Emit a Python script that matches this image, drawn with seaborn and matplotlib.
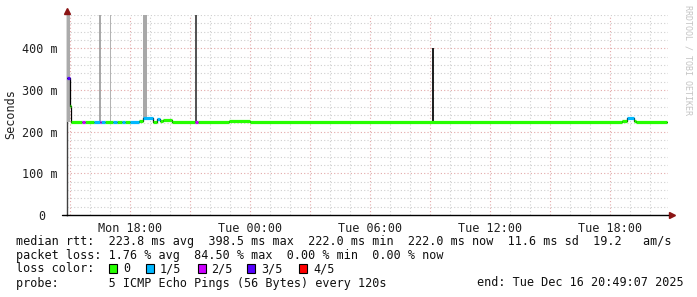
import numpy as np
import pandas as pd
import matplotlib
matplotlib.use("Agg")
import matplotlib.pyplot as plt
import matplotlib.transforms as mtransforms
from matplotlib.patches import Rectangle
import seaborn as sns

# ---------------- data ----------------
# median rtt segments (hours since Mon 00:00, value in ms, loss category)
seg_start = [14.85, 14.975, 15.025, 15.60, 15.75, 16.20, 16.475, 16.55, 16.75, 17.15, 17.35, 17.60,
             17.75, 18.00, 18.45, 18.65, 19.15, 19.35, 19.50, 19.65, 20.10, 21.25, 21.40, 22.95,
             24.00, 42.60, 42.85, 43.20, 43.30]
seg_end = [14.975, 15.025, 15.60, 15.75, 16.20, 16.475, 16.55, 16.75, 17.15, 17.35, 17.60, 17.75,
           18.00, 18.45, 18.65, 19.15, 19.35, 19.50, 19.65, 20.10, 21.25, 21.40, 22.95, 24.00,
           42.60, 42.85, 43.20, 43.30, 44.85]
seg_rtt = [328, 262, 222.5, 222.5, 222.5, 222.5, 222.5, 222.5, 222.5, 222.5, 222.5, 222.5,
           222.5, 222.5, 226, 233, 222, 231, 225, 229, 223, 223, 222, 226,
           222, 226, 232, 226, 222]
seg_loss = ["3/5", "0", "0", "2/5", "0", "1/5", "2/5", "1/5", "0", "1/5", "0", "1/5",
            "0", "1/5", "0", "1/5", "0", "1/5", "0", "0", "0", "2/5", "0", "0",
            "0", "0", "1/5", "0", "0"]

# smoke (ping spread) bands
smoke_start = [14.85, 16.45, 17.00, 18.65, 21.25, 33.10]
smoke_end = [15.00, 16.55, 17.05, 18.85, 21.35, 33.20]
smoke_low = [222, 222, 225, 232, 222, 222]
smoke_high = [480, 480, 480, 480, 480, 400]
smoke_shade = [0.67, 0.66, 0.70, 0.66, 0.33, 0.13]

loss_labels = ["0", "1/5", "2/5", "3/5", "4/5"]
loss_colors = ["#26ff00", "#00b8ff", "#cc00ff", "#5500ff", "#ff0000"]

xtick_hours = [15, 18, 21, 24, 27, 30, 33, 36, 39, 42]
xtick_labels = ["", "Mon 18:00", "", "Tue 00:00", "", "Tue 06:00", "", "Tue 12:00", "", "Tue 18:00"]
ytick_values = [0, 100, 200, 300, 400]
ytick_labels = ["0", "100 m", "200 m", "300 m", "400 m"]

stats_lines = [
    "median rtt:  223.8 ms avg  398.5 ms max  222.0 ms min  222.0 ms now  11.6 ms sd  19.2   am/s",
    "packet loss: 1.76 % avg  84.50 % max  0.00 % min  0.00 % now",
    "loss color:",
    "probe:       5 ICMP Echo Pings (56 Bytes) every 120s",
]
end_text = "end: Tue Dec 16 20:49:07 2025"
y_title = "Seconds"
watermark = "RRDTOOL / TOBI OETIKER"

# ---------------- styling ----------------
sns.set_style("white")
plt.rcParams["font.family"] = ["DejaVu Sans Mono"]
FS = 8.5
W, H = 697, 297

fig = plt.figure(figsize=(W / 100, H / 100), dpi=100)
fig.patch.set_facecolor("white")
ax = fig.add_axes([67 / W, (H - 215) / H, 601 / W, 200 / H])
ax.set_facecolor("white")

x0, x1 = 14.85, 44.9
ax.set_xlim(x0, x1)
ax.set_ylim(0, 480)

# grid
major_grid = "#e3a9a9"
minor_grid = "#cfcfcf"
for h in np.arange(15, 45, 1):
    if h % 3 == 0:
        continue
    ax.axvline(h, color=minor_grid, lw=0.8, ls=(0, (1, 2)), zorder=0)
for v in np.arange(20, 481, 20):
    if v % 100 == 0:
        continue
    ax.axhline(v, color=minor_grid, lw=0.8, ls=(0, (1, 2)), zorder=0)
for h in xtick_hours:
    ax.axvline(h, color=major_grid, lw=0.8, ls=(0, (1, 2)), zorder=0.5)
for v in ytick_values[1:]:
    ax.axhline(v, color=major_grid, lw=0.8, ls=(0, (1, 2)), zorder=0.5)

# smoke
for s, e, lo, hi, sh in zip(smoke_start, smoke_end, smoke_low, smoke_high, smoke_shade):
    ax.bar(s, hi - lo, bottom=lo, width=e - s, align="edge",
           color=(sh, sh, sh), linewidth=0, zorder=1)

# median line: black step connectors beneath colored segments
step_x, step_y = [], []
for s, e, v in zip(seg_start, seg_end, seg_rtt):
    step_x += [s, e]
    step_y += [v, v]
sns.lineplot(x=step_x, y=step_y, ax=ax, color="black", lw=0.9,
             estimator=None, sort=False, zorder=2)

rows = []
for i, (s, e, v, l) in enumerate(zip(seg_start, seg_end, seg_rtt, seg_loss)):
    rows.append({"hour": s, "rtt": v, "loss": l, "seg": i})
    rows.append({"hour": e, "rtt": v, "loss": l, "seg": i})
df = pd.DataFrame(rows)
sns.lineplot(data=df, x="hour", y="rtt", hue="loss", units="seg", estimator=None,
             hue_order=loss_labels, palette=dict(zip(loss_labels, loss_colors)),
             lw=2.3, sort=False, legend=False, ax=ax, zorder=3, solid_capstyle="butt")

# axes decoration
for sp in ["top", "right"]:
    ax.spines[sp].set_visible(False)
ax.spines["left"].set_color("#404040")
ax.spines["left"].set_linewidth(1.0)
ax.spines["left"].set_zorder(0.8)
ax.spines["bottom"].set_color("#000000")
ax.spines["bottom"].set_linewidth(1.0)

ax.set_xticks(xtick_hours)
ax.set_xticklabels(xtick_labels, fontsize=FS, color="#202020")
ax.set_xticks(np.arange(15, 45, 1), minor=True)
ax.tick_params(axis="x", which="major", length=3, width=0.8, color="#d08080", pad=2)
ax.tick_params(axis="x", which="minor", length=2, width=0.8, color="#cccccc")
ax.set_yticks(ytick_values)
ax.set_yticklabels(ytick_labels, fontsize=FS, color="#202020")
ax.tick_params(axis="y", which="major", length=5, width=0.8, color="#d8a0a0", pad=2)
ax.set_xlabel("")
ax.set_ylabel("")
# shift the lone "0" label to match the reference alignment
lab0 = ax.get_yticklabels()[0]
lab0.set_transform(lab0.get_transform() + mtransforms.ScaledTranslation(-12 / 100, 0, fig.dpi_scale_trans))

# arrows
ax.plot([0], [1.0 + 4 / 200], marker="^", color="#8b1414", ms=4.5, transform=ax.transAxes, clip_on=False)
ax.plot([1.0 + 4 / 601], [0], marker=">", color="#8b1414", ms=4.5, transform=ax.transAxes, clip_on=False)
ax.plot([-5 / 601, 0], [0, 0], color="black", lw=1.0, transform=ax.transAxes, clip_on=False)

# titles
fig.text(11 / W, 1 - 114 / H, y_title, rotation=90, ha="center", va="center", fontsize=FS, color="#202020")
fig.text(688 / W, 1 - 60 / H, watermark, rotation=270, ha="center", va="center", fontsize=6, color="#c4c4c4")

# legend / stats text
line_y = [241, 255, 269, 283]
for txt, yy in zip(stats_lines, line_y):
    fig.text(16 / W, 1 - yy / H, txt, ha="left", va="center", fontsize=FS, color="#101010")
fig.text(684 / W, 1 - 283 / H, end_text, ha="right", va="center", fontsize=FS, color="#101010")

sq_left = [109, 146, 198, 247, 299]
txt_left = [123, 160, 211, 261, 313]
for lab, col, sx, tx in zip(loss_labels, loss_colors, sq_left, txt_left):
    fig.patches.append(Rectangle((sx / W, 1 - 273 / H), 8 / W, 9 / H, transform=fig.transFigure,
                                 facecolor=col, edgecolor="black", lw=0.8))
    fig.text(tx / W, 1 - 269 / H, lab, ha="left", va="center", fontsize=FS, color="#101010")

fig.savefig("out.png", dpi=100, facecolor="white")
